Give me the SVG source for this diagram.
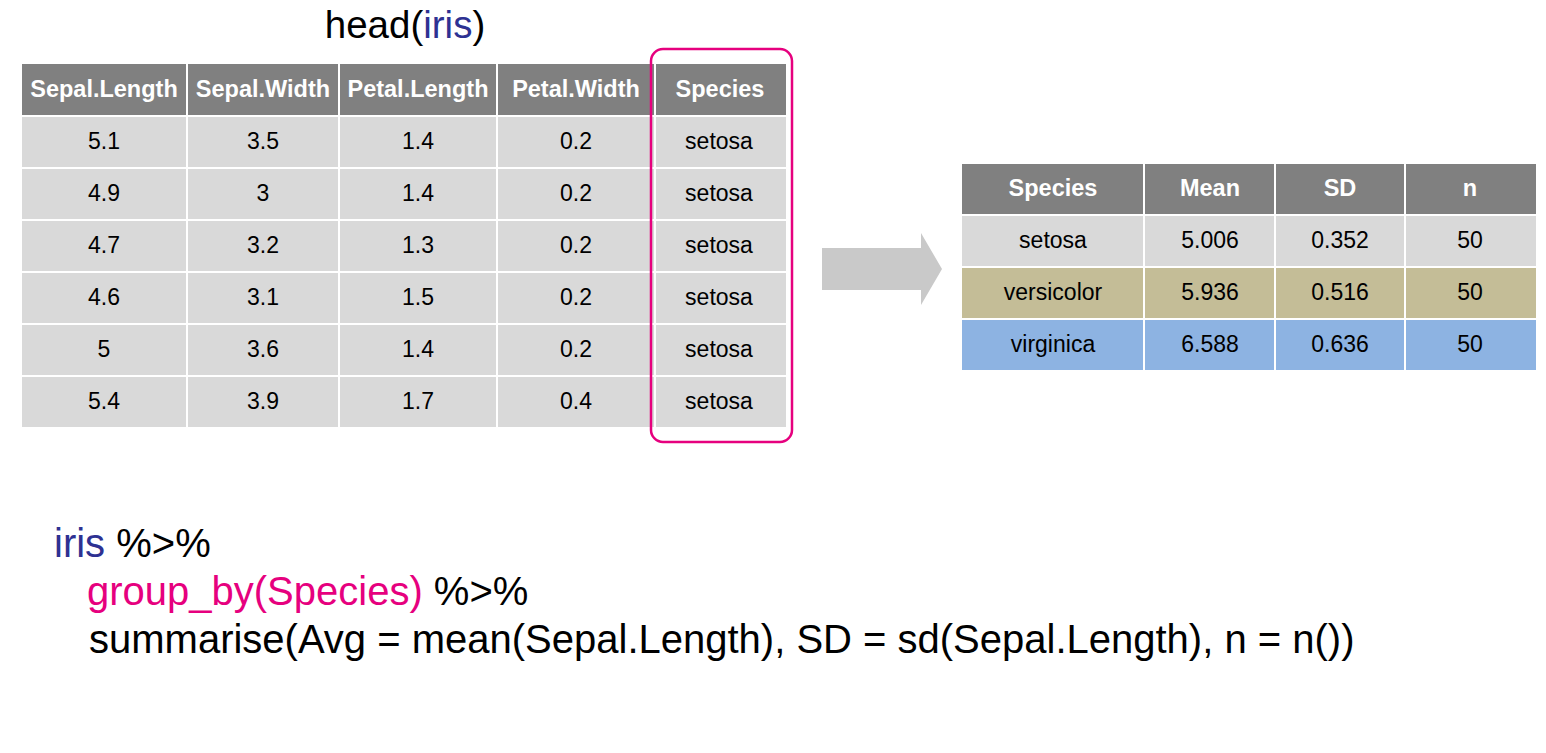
<svg xmlns="http://www.w3.org/2000/svg" width="1546" height="753" viewBox="0 0 1546 753">
<style>
text{font-family:"Liberation Sans",Arial,sans-serif}
.hd{fill:#808080}
.r{fill:#D9D9D9}
.rv{fill:#C4BD97}
.rg{fill:#8DB3E2}
.ht{font-size:23.5px;font-weight:bold;fill:#fff;text-anchor:middle}
.ct{font-size:23px;fill:#000;text-anchor:middle}
.grid{stroke:#fff;stroke-width:2}
.code{font-size:40px;fill:#000}
.blue{fill:#2E3192}
.pink{fill:#E6007E}
</style>
<rect width="1546" height="753" fill="#fff"/>
<g id="title">
<text x="405" y="38" font-size="38.5" text-anchor="middle">head(<tspan class="blue">iris</tspan>)</text>
</g>
<g id="iris-table">
<rect class="hd" x="22" y="64" width="764" height="52"/>
<rect class="r" x="22" y="116" width="764" height="312"/>
<g class="grid">
<line x1="187" y1="64" x2="187" y2="428"/>
<line x1="339" y1="64" x2="339" y2="428"/>
<line x1="497" y1="64" x2="497" y2="428"/>
<line x1="655" y1="64" x2="655" y2="428"/>
<line x1="22" y1="116" x2="786" y2="116"/>
<line x1="22" y1="168" x2="786" y2="168"/>
<line x1="22" y1="220" x2="786" y2="220"/>
<line x1="22" y1="272" x2="786" y2="272"/>
<line x1="22" y1="324" x2="786" y2="324"/>
<line x1="22" y1="376" x2="786" y2="376"/>
<line x1="22" y1="428" x2="786" y2="428"/>
</g>
<text class="ht" x="104" y="97">Sepal.Length</text>
<text class="ht" x="263" y="97">Sepal.Width</text>
<text class="ht" x="418" y="97">Petal.Length</text>
<text class="ht" x="576" y="97">Petal.Width</text>
<text class="ht" x="720" y="97">Species</text>
<text class="ct" x="104" y="149">5.1</text><text class="ct" x="263" y="149">3.5</text><text class="ct" x="418" y="149">1.4</text><text class="ct" x="576" y="149">0.2</text><text class="ct" x="719" y="149">setosa</text>
<text class="ct" x="104" y="201">4.9</text><text class="ct" x="263" y="201">3</text><text class="ct" x="418" y="201">1.4</text><text class="ct" x="576" y="201">0.2</text><text class="ct" x="719" y="201">setosa</text>
<text class="ct" x="104" y="253">4.7</text><text class="ct" x="263" y="253">3.2</text><text class="ct" x="418" y="253">1.3</text><text class="ct" x="576" y="253">0.2</text><text class="ct" x="719" y="253">setosa</text>
<text class="ct" x="104" y="305">4.6</text><text class="ct" x="263" y="305">3.1</text><text class="ct" x="418" y="305">1.5</text><text class="ct" x="576" y="305">0.2</text><text class="ct" x="719" y="305">setosa</text>
<text class="ct" x="104" y="357">5</text><text class="ct" x="263" y="357">3.6</text><text class="ct" x="418" y="357">1.4</text><text class="ct" x="576" y="357">0.2</text><text class="ct" x="719" y="357">setosa</text>
<text class="ct" x="104" y="409">5.4</text><text class="ct" x="263" y="409">3.9</text><text class="ct" x="418" y="409">1.7</text><text class="ct" x="576" y="409">0.4</text><text class="ct" x="719" y="409">setosa</text>
</g>
<g id="species-highlight">
<rect x="651" y="49" width="141" height="393" rx="12" ry="12" fill="none" stroke="#E6007E" stroke-width="2.5"/>
</g>
<g id="connectors">
<polygon points="822,248 921,248 921,233 942,269 921,305 921,290 822,290" fill="#C9C9C9"/>
</g>
<g id="summary-table">
<rect class="hd" x="962" y="164" width="574" height="51"/>
<rect class="r" x="962" y="215" width="574" height="52"/>
<rect class="rv" x="962" y="267" width="574" height="52"/>
<rect class="rg" x="962" y="319" width="574" height="52"/>
<g class="grid">
<line x1="1144" y1="164" x2="1144" y2="371"/>
<line x1="1275" y1="164" x2="1275" y2="371"/>
<line x1="1405" y1="164" x2="1405" y2="371"/>
<line x1="962" y1="215" x2="1536" y2="215"/>
<line x1="962" y1="267" x2="1536" y2="267"/>
<line x1="962" y1="319" x2="1536" y2="319"/>
<line x1="962" y1="371" x2="1536" y2="371"/>
</g>
<text class="ht" x="1053" y="196">Species</text>
<text class="ht" x="1210" y="196">Mean</text>
<text class="ht" x="1340" y="196">SD</text>
<text class="ht" x="1470" y="196">n</text>
<text class="ct" x="1053" y="248">setosa</text><text class="ct" x="1210" y="248">5.006</text><text class="ct" x="1340" y="248">0.352</text><text class="ct" x="1470" y="248">50</text>
<text class="ct" x="1053" y="300">versicolor</text><text class="ct" x="1210" y="300">5.936</text><text class="ct" x="1340" y="300">0.516</text><text class="ct" x="1470" y="300">50</text>
<text class="ct" x="1053" y="352">virginica</text><text class="ct" x="1210" y="352">6.588</text><text class="ct" x="1340" y="352">0.636</text><text class="ct" x="1470" y="352">50</text>
</g>
<g id="code">
<text class="code" x="54" y="557"><tspan class="blue">iris</tspan> %&gt;%</text>
<text class="code" x="87" y="605"><tspan class="pink">group_by(Species)</tspan> %&gt;%</text>
<text class="code" x="89" y="653">summarise(Avg = mean(Sepal.Length), SD = sd(Sepal.Length), n = n())</text>
</g>
</svg>
